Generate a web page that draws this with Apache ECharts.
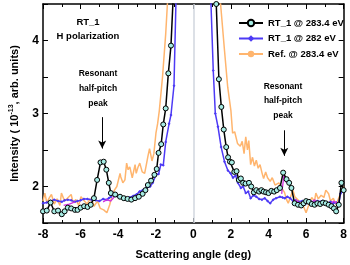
<!DOCTYPE html>
<html><head><meta charset="utf-8">
<script src="https://cdn.jsdelivr.net/npm/echarts@6/dist/echarts.min.js"></script>
<style>html,body{margin:0;padding:0;background:#fff}#c{width:350px;height:265px}</style>
</head><body><div id="c"></div>
<script>
const xTicks = [-8,-6,-4,-2,0,2,4,6,8];
const yTicks = [2,3,4];
const seriesNames = ['RT_1 @ 283.4 eV','RT_1 @ 282 eV','Ref. @ 283.4 eV'];

const blackLeftX = [-8.0,-7.8,-7.6,-7.4,-7.2,-7.0,-6.85,-6.68,-6.5,-6.3,-6.16,-6.0,-5.81,-5.63,-5.46,-5.29,-5.12,-4.94,-4.77,-4.63,-4.5,-4.39,-4.16,-3.9,-3.7,-3.5,-3.3,-3.1,-2.9,-2.7,-2.55,-2.42,-2.25,-2.07,-1.95,-1.85,-1.71,-1.6,-1.47,-1.33,-1.19,-1.0];
const blackLeftY = [1.66,1.67,1.78,1.66,1.67,1.62,1.66,1.71,1.70,1.68,1.68,1.71,1.73,1.72,1.75,1.84,2.09,2.33,2.34,2.23,2.05,1.91,1.89,1.86,1.84,1.83,1.82,1.84,1.86,1.90,1.95,2.02,2.08,2.16,2.24,2.46,2.58,2.85,3.07,3.55,3.93,5.0];
const blackRightX = [1.05,1.22,1.36,1.49,1.62,1.75,1.85,1.95,2.05,2.18,2.3,2.42,2.53,2.65,2.78,2.96,3.08,3.22,3.35,3.5,3.62,3.74,3.87,4.0,4.15,4.3,4.44,4.61,4.78,4.96,5.1,5.22,5.39,5.57,5.74,5.87,6.0,6.15,6.3,6.45,6.6,6.75,6.9,7.05,7.2,7.35,7.48,7.6,7.74,7.88,8.0];
const blackRightY = [5.0,4.5,3.47,3.09,2.78,2.54,2.40,2.34,2.33,2.20,2.21,2.09,2.11,2.05,2.04,2.05,2.0,1.92,1.95,1.93,1.95,1.93,1.92,1.91,1.94,1.93,1.95,1.98,2.19,2.10,2.05,1.98,1.77,1.75,1.74,1.77,1.80,1.79,1.76,1.75,1.77,1.76,1.78,1.77,1.75,1.73,1.70,1.66,1.75,2.05,1.95];

const blueLeftX = [-8.0,-7.8,-7.6,-7.4,-7.2,-7.0,-6.85,-6.68,-6.5,-6.3,-6.16,-6.0,-5.82,-5.64,-5.4,-5.2,-5.0,-4.8,-4.6,-4.5,-4.38,-4.25,-4.1,-3.9,-3.73,-3.55,-3.38,-3.2,-3.03,-2.86,-2.7,-2.5,-2.3,-2.16,-1.99,-1.85,-1.73,-1.6,-1.47,-1.29,-1.19,-1.03,-0.9];
const blueLeftY = [1.77,1.78,1.80,1.82,1.80,1.79,1.81,1.82,1.81,1.79,1.80,1.81,1.83,1.83,1.82,1.81,1.80,1.83,1.82,1.84,1.86,1.91,1.87,1.85,1.84,1.83,1.85,1.87,1.89,1.93,1.95,1.98,2.0,2.05,2.16,2.17,2.30,2.29,2.61,2.86,2.98,3.38,4.8];
const blueRightX = [0.9,1.06,1.17,1.31,1.48,1.66,1.84,1.98,2.11,2.25,2.37,2.53,2.65,2.79,2.92,3.05,3.2,3.35,3.5,3.65,3.8,3.95,4.09,4.25,4.4,4.61,4.75,4.87,5.0,5.15,5.31,5.45,5.6,5.8,6.0,6.15,6.3,6.45,6.6,6.75,6.87,7.0,7.15,7.3,7.45,7.6,7.74,7.83,8.0];
const blueRightY = [4.8,3.59,3.0,2.82,2.54,2.34,2.22,2.18,2.12,2.15,2.05,1.98,2.0,1.91,1.93,1.84,1.88,1.86,1.83,1.82,1.84,1.80,1.77,1.82,1.84,1.86,1.85,1.84,1.86,1.84,1.80,1.81,1.79,1.80,1.77,1.80,1.79,1.78,1.80,1.79,1.80,1.78,1.77,1.79,1.77,1.78,1.77,1.90,1.95];

const orangeLeftX = [-8.0,-7.9,-7.8,-7.65,-7.55,-7.4,-7.25,-7.1,-7.02,-6.85,-6.7,-6.5,-6.4,-6.25,-6.1,-5.98,-5.8,-5.65,-5.5,-5.35,-5.29,-5.1,-4.95,-4.77,-4.6,-4.45,-4.34,-4.2,-4.07,-3.9,-3.86,-3.75,-3.64,-3.55,-3.47,-3.38,-3.25,-3.1,-3.04,-2.95,-2.85,-2.72,-2.59,-2.5,-2.42,-2.33,-2.2,-2.1,-1.99,-1.9,-1.81,-1.64,-1.47,-1.38,-1.3];
const orangeLeftY = [1.80,1.91,1.78,1.85,1.89,1.76,1.83,1.74,1.91,1.80,1.84,1.89,1.78,1.82,1.74,1.86,1.80,1.76,1.83,1.78,1.73,1.80,1.70,1.68,1.64,1.75,1.86,1.95,2.00,2.18,2.13,2.05,2.09,2.32,2.23,2.27,2.12,2.30,2.18,2.26,2.32,2.20,2.18,2.30,2.41,2.52,2.35,2.45,2.73,2.86,3.04,3.5,4.09,4.5,5.0];
const orangeRightX = [1.35,1.45,1.66,1.83,2.0,2.09,2.2,2.35,2.5,2.6,2.7,2.79,2.88,2.95,3.05,3.15,3.25,3.35,3.45,3.55,3.66,3.74,3.85,3.95,4.09,4.2,4.35,4.44,4.55,4.7,4.85,4.96,5.05,5.13,5.3,5.4,5.55,5.7,5.83,6.0,6.15,6.3,6.45,6.52,6.65,6.8,6.95,7.05,7.2,7.3,7.45,7.6,7.75,7.9,8.0];
const orangeRightY = [5.0,4.5,3.86,3.36,3.04,2.73,2.75,2.59,2.55,2.62,2.45,2.68,2.50,2.63,2.30,2.40,2.28,2.36,2.25,2.30,2.18,2.11,2.20,2.12,2.07,2.12,2.02,2.0,2.05,1.98,1.92,1.82,1.77,1.77,1.95,1.86,1.82,1.78,1.75,1.64,1.75,1.85,1.80,1.91,1.83,1.88,1.85,1.95,1.90,1.80,1.84,1.75,1.85,1.95,2.0];

const magentaX = [-6.9,-6.6,-6.3,null,-4.8,-4.6,-4.4,-4.2,null,4.7,4.82,4.95,null,5.3,5.45,5.6,null,6.3,6.45,6.6,null,7.3,7.45,7.6,7.75];
const magentaY = [1.74,1.76,1.79,null,1.79,1.82,1.80,1.86,null,1.90,2.15,2.05,null,1.79,1.82,1.78,null,1.78,1.82,1.77,null,1.75,1.80,1.78,1.74];

function join(lx, ly, rx, ry) {
  const d = lx.map((x, i) => [x, ly[i]]);
  d.push([0, null]);
  return d.concat(rx.map((x, i) => [x, ry[i]]));
}
const magentaData = magentaX.map((x, i) => x === null ? [0, null] : [x, magentaY[i]]);

const F = 'Liberation Sans, Arial, sans-serif';
const chart = echarts.init(document.getElementById('c'), null, {renderer: 'canvas'});
const axisLine = {show: true, onZero: false, lineStyle: {color: '#000', width: 1.5}};
const tick = {show: true, inside: true, length: 5, lineStyle: {color: '#000', width: 1}};
const minor = {show: true, splitNumber: 2, length: 3, lineStyle: {color: '#000', width: 1}};

chart.setOption({
  animation: false,
  grid: {left: 38, right: 5, top: 4, bottom: 41},
  xAxis: [{
    type: 'value', min: -8, max: 8, interval: 2, position: 'bottom',
    axisLine, axisTick: tick, minorTick: minor, splitLine: {show: false},
    axisLabel: {fontFamily: F, fontWeight: 'bold', fontSize: 12, color: '#000', margin: 6},
    name: 'Scattering angle (deg)', nameLocation: 'middle', nameGap: 26,
    nameTextStyle: {fontFamily: F, fontWeight: 'bold', fontSize: 11, color: '#000'}
  }, {
    type: 'value', min: -8, max: 8, interval: 2, position: 'top',
    axisLine, axisTick: tick, minorTick: minor, splitLine: {show: false}, axisLabel: {show: false}
  }],
  yAxis: [{
    type: 'value', min: 1.5, max: 4.5, interval: 0.5, position: 'left',
    axisLine, axisTick: tick, minorTick: {show: false}, splitLine: {show: false},
    axisLabel: {fontFamily: F, fontWeight: 'bold', fontSize: 12, color: '#000', margin: 4,
      formatter: v => (yTicks.indexOf(v) >= 0 ? String(v) : '')},
    name: 'Intensity ( 10{s|-13}, arb. units)', nameLocation: 'middle', nameGap: 22,
    nameTextStyle: {fontFamily: F, fontWeight: 'bold', fontSize: 11, color: '#000',
      rich: {s: {fontFamily: F, fontWeight: 'bold', fontSize: 7, color: '#000', padding: [0, 0, 6, 0]}}}
  }, {
    type: 'value', min: 1.5, max: 4.5, interval: 0.5, position: 'right',
    axisLine, axisTick: tick, splitLine: {show: false}, axisLabel: {show: false}
  }],
  legend: {
    data: seriesNames, orient: 'vertical', left: 233, top: 13,
    itemWidth: 24, itemHeight: 8, itemGap: 5.5,
    textStyle: {fontFamily: F, fontWeight: 'bold', fontSize: 9.5, color: '#000'}
  },
  graphic: [
    {type: 'text', x: 88, y: 22, style: {text: 'RT_1', font: 'bold 9.5px ' + F, fill: '#000', align: 'center', verticalAlign: 'middle'}},
    {type: 'text', x: 88, y: 36, style: {text: 'H polarization', font: 'bold 9.5px ' + F, fill: '#000', align: 'center', verticalAlign: 'middle'}},
    {type: 'text', x: 98, y: 74, style: {text: 'Resonant', font: 'bold 8.5px ' + F, fill: '#000', align: 'center', verticalAlign: 'middle'}},
    {type: 'text', x: 98, y: 89, style: {text: 'half-pitch', font: 'bold 8.5px ' + F, fill: '#000', align: 'center', verticalAlign: 'middle'}},
    {type: 'text', x: 98, y: 104, style: {text: 'peak', font: 'bold 8.5px ' + F, fill: '#000', align: 'center', verticalAlign: 'middle'}},
    {type: 'text', x: 283, y: 87, style: {text: 'Resonant', font: 'bold 8.5px ' + F, fill: '#000', align: 'center', verticalAlign: 'middle'}},
    {type: 'text', x: 283, y: 101, style: {text: 'half-pitch', font: 'bold 8.5px ' + F, fill: '#000', align: 'center', verticalAlign: 'middle'}},
    {type: 'text', x: 283, y: 116, style: {text: 'peak', font: 'bold 8.5px ' + F, fill: '#000', align: 'center', verticalAlign: 'middle'}}
  ],
  series: [
    {
      name: seriesNames[2], type: 'line', data: join(orangeLeftX, orangeLeftY, orangeRightX, orangeRightY),
      showSymbol: false, symbol: 'none', connectNulls: false, z: 2,
      itemStyle: {color: '#ffb56e'}, lineStyle: {color: '#ffb56e', width: 1.5},
      markLine: {silent: true, symbol: 'none', label: {show: false}, z: 1,
        lineStyle: {color: '#d0d6de', width: 1.5, type: 'solid'}, data: [{xAxis: 0}]}
    },
    {
      name: seriesNames[1], type: 'line', data: join(blueLeftX, blueLeftY, blueRightX, blueRightY),
      symbol: 'diamond', symbolSize: 3, showSymbol: true, connectNulls: false, z: 3,
      itemStyle: {color: '#4d3af5'}, lineStyle: {color: '#4d3af5', width: 1.5}
    },
    {
      name: 'overlap', type: 'line', data: magentaData, symbol: 'none', connectNulls: false, z: 4,
      lineStyle: {color: '#d030e0', width: 1.3}
    },
    {
      name: seriesNames[0], type: 'line', data: join(blackLeftX, blackLeftY, blackRightX, blackRightY),
      symbol: 'circle', symbolSize: 5, showSymbol: true, connectNulls: false, z: 5,
      itemStyle: {color: '#a6ece4', borderColor: '#000', borderWidth: 1},
      lineStyle: {color: '#000', width: 1.5},
      markLine: {silent: true, symbol: ['none', 'arrow'], symbolSize: [6, 8], label: {show: false},
        lineStyle: {color: '#000', width: 1, type: 'solid'},
        data: [
          [{coord: [-4.85, 2.95]}, {coord: [-4.85, 2.52]}],
          [{coord: [4.84, 2.77]}, {coord: [4.84, 2.42]}]
        ]}
    }
  ]
});
</script></body></html>
